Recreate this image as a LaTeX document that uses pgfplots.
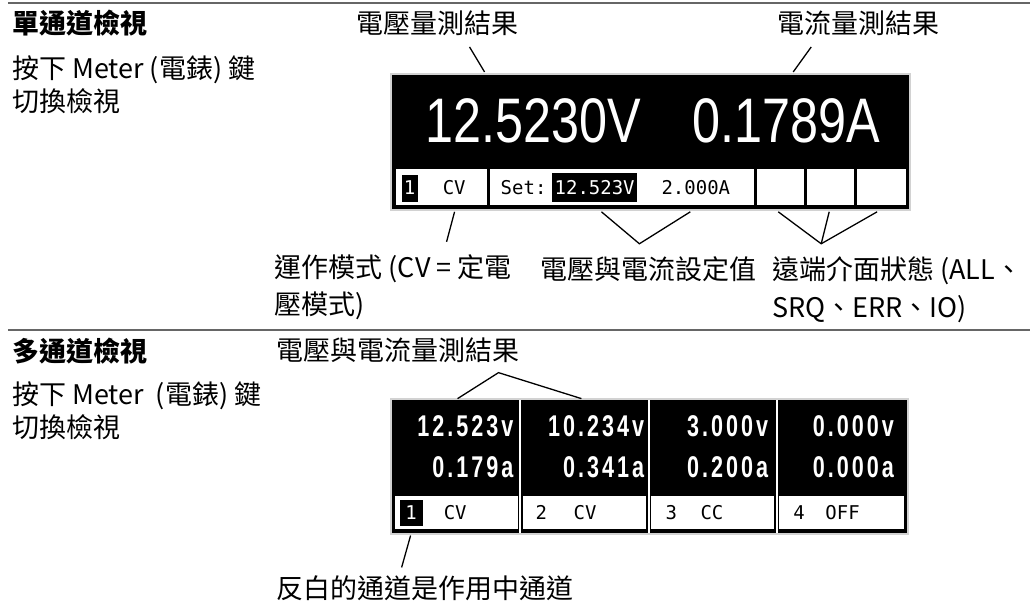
\documentclass[border=0pt]{standalone}
\usepackage{fontspec}
\usepackage{pgfplots}
\pgfplotsset{compat=1.18}
\setmainfont{Noto Sans CJK TC}
\newfontfamily\bigfont[FakeStretch=0.8]{Liberation Sans}
\newfontfamily\dmono{DejaVu Sans Mono}
\newfontfamily\dbold[FakeStretch=0.72, LetterSpace=10]{Liberation Sans}
\begin{document}
\begin{tikzpicture}[
  lab/.style={anchor=base west, inner sep=0pt, font=\fontsize{27}{32}\selectfont},
  big/.style={anchor=base west, inner sep=0pt, text=white, font=\bigfont\fontsize{63}{70}\selectfont},
  sm/.style={anchor=base west, inner sep=0pt, font=\dmono\fontsize{19}{22}\selectfont},
  mid/.style={anchor=base east, inner sep=0pt, text=white, font=\dbold\bfseries\fontsize{30}{34}\selectfont}
]
\begin{axis}[hide axis, scale only axis, width=1031pt, height=601pt,
  xmin=0, xmax=1031, ymin=0, ymax=601, y dir=reverse, clip=false]
\path (axis cs:0,0) rectangle (axis cs:1031,601);
% rules
\addplot[gray!80!black, line width=2pt] coordinates {(8,3) (1031,3)};
\addplot[gray!80!black, line width=2pt] coordinates {(8,330) (1031,330)};

% ---------- single channel display ----------
\fill[gray!35] (axis cs:390,73) rectangle (axis cs:912,211);
\fill[black] (axis cs:392,75) rectangle (axis cs:910,209);
\fill[white] (axis cs:396,169) rectangle (axis cs:487,205);
\fill[white] (axis cs:490,169) rectangle (axis cs:755,205);
\fill[white] (axis cs:758,169) rectangle (axis cs:805,205);
\fill[white] (axis cs:808,169) rectangle (axis cs:855,205);
\fill[white] (axis cs:858,169) rectangle (axis cs:907,205);
\node[big] at (axis cs:426,143) {12.5230V};
\node[big] at (axis cs:693,143) {0.1789A};
\fill[black] (axis cs:402,175) rectangle (axis cs:418,202);
\node[sm, anchor=base, text=white] at (axis cs:410,195) {1};
\node[sm] at (axis cs:443,195) {CV};
\node[sm] at (axis cs:501,195) {Set:};
\fill[black] (axis cs:553,173) rectangle (axis cs:638,202);
\node[sm, text=white] at (axis cs:555,195) {12.523V};
\node[sm] at (axis cs:662,195) {2.000A};

% leaders, single
\addplot[black, line width=1.3pt] coordinates {(470,47) (485,72)};
\addplot[black, line width=1.3pt] coordinates {(812,47) (794,72)};
\addplot[black, line width=1.3pt] coordinates {(455,212) (447,242)};
\addplot[black, line width=1.3pt] coordinates {(602,212) (640,244) (691,212)};
\addplot[black, line width=1.3pt] coordinates {(779,212) (822,244) (878,212)};
\addplot[black, line width=1.3pt] coordinates {(830,212) (822,244)};

% labels, single
\node[lab, font=\fontsize{27}{32}\selectfont\bfseries] at (axis cs:12,34) {單通道檢視};
\node[lab] at (axis cs:12,79) {按下 Meter (電錶) 鍵};
\node[lab] at (axis cs:12,112) {切換檢視};
\node[lab] at (axis cs:357,34) {電壓量測結果};
\node[lab] at (axis cs:778,34) {電流量測結果};
\node[lab] at (axis cs:275,278) {運作模式 (CV = 定電};
\node[lab] at (axis cs:275,315) {壓模式)};
\node[lab] at (axis cs:541,280) {電壓與電流設定值};
\node[lab] at (axis cs:773,280) {遠端介面狀態 (ALL、};
\node[lab] at (axis cs:773,318) {SRQ、ERR、IO)};

% ---------- multi channel display ----------
\fill[gray!35] (axis cs:390,398) rectangle (axis cs:910,536);
\fill[black] (axis cs:392,400) rectangle (axis cs:908,534);
\node[mid] at (axis cs:514,437) {12.523v};
\node[mid] at (axis cs:514,478) {0.179a};
\node[mid] at (axis cs:645,437) {10.234v};
\node[mid] at (axis cs:645,478) {0.341a};
\node[mid] at (axis cs:769,437) {3.000v};
\node[mid] at (axis cs:769,478) {0.200a};
\node[mid] at (axis cs:895,437) {0.000v};
\node[mid] at (axis cs:895,478) {0.000a};
\fill[white] (axis cs:395,496) rectangle (axis cs:518,530);
\fill[white] (axis cs:523,496) rectangle (axis cs:647,530);
\fill[white] (axis cs:652,496) rectangle (axis cs:775,530);
\fill[white] (axis cs:780,496) rectangle (axis cs:905,530);
\fill[white] (axis cs:519.7,400) rectangle (axis cs:521.3,534);
\fill[white] (axis cs:648.7,400) rectangle (axis cs:650.3,534);
\fill[white] (axis cs:777.2,400) rectangle (axis cs:778.8,534);
\fill[black] (axis cs:400,500) rectangle (axis cs:423,526);
\node[sm, anchor=base, text=white] at (axis cs:411.5,520) {1};
\node[sm] at (axis cs:444,520) {CV};
\node[sm] at (axis cs:536,520) {2};
\node[sm] at (axis cs:574,520) {CV};
\node[sm] at (axis cs:666,520) {3};
\node[sm] at (axis cs:701,520) {CC};
\node[sm] at (axis cs:794,520) {4};
\node[sm] at (axis cs:826,520) {OFF};

% leaders, multi
\addplot[black, line width=1.3pt] coordinates {(458,399) (499,373) (582,399)};
\addplot[black, line width=1.3pt] coordinates {(411,536) (402,568)};

% labels, multi
\node[lab, font=\fontsize{27}{32}\selectfont\bfseries] at (axis cs:12,362) {多通道檢視};
\node[lab] at (axis cs:277,361) {電壓與電流量測結果};
\node[lab] at (axis cs:12,405) {按下 Meter \ (電錶) 鍵};
\node[lab] at (axis cs:12,438) {切換檢視};
\node[lab] at (axis cs:277,599) {反白的通道是作用中通道};
\end{axis}
\end{tikzpicture}
\end{document}
